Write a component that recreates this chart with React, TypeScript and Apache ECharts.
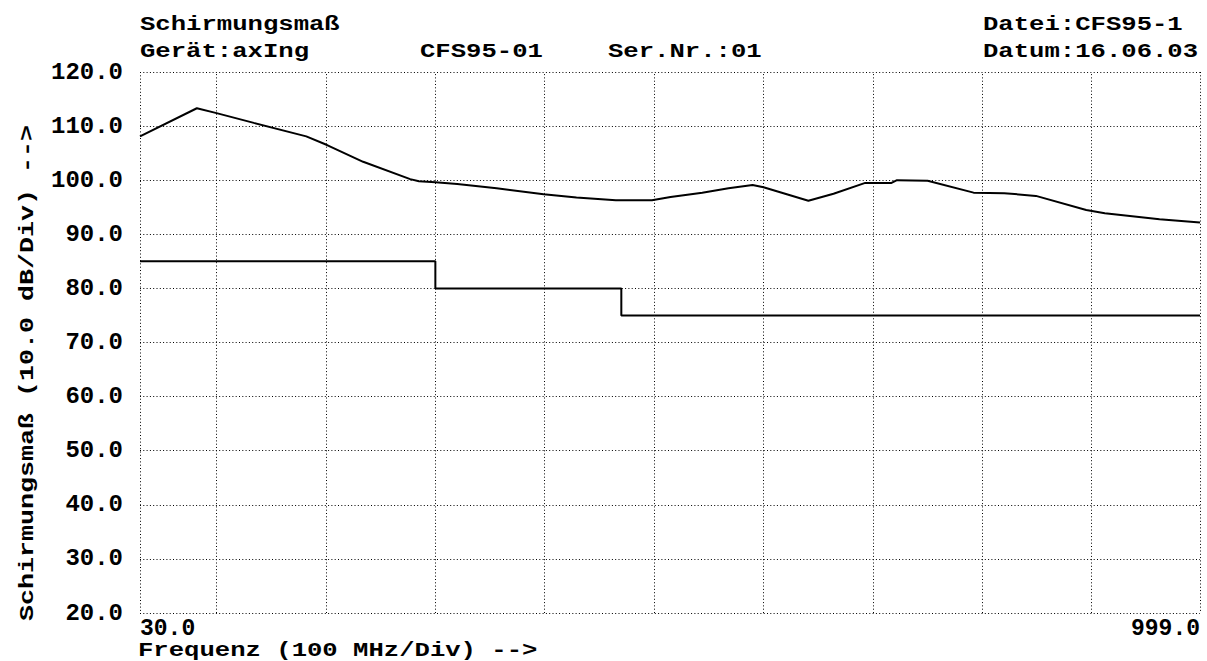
import React, { useEffect, useRef } from "react";
import * as echarts from "echarts";

// Frequency (MHz) and shielding attenuation (dB) of the measured curve
const measFreq = [30, 82, 100, 134, 182, 201, 234, 277, 285, 300, 320, 356, 399, 429, 465, 498, 515, 544, 568, 590, 600, 641, 664, 693, 717, 722, 750, 792, 820, 849, 895, 912, 962, 999];
const measDb = [108.1, 113.3, 112.4, 110.6, 108.1, 106.5, 103.4, 100.2, 99.8, 99.6, 99.3, 98.5, 97.4, 96.8, 96.3, 96.3, 96.9, 97.7, 98.5, 99.1, 98.7, 96.2, 97.5, 99.5, 99.5, 100.0, 99.9, 97.7, 97.6, 97.1, 94.5, 93.9, 92.8, 92.2];

// Limit line (step)
const limitFreq = [30, 300, 300, 470, 470, 999];
const limitDb = [85, 85, 80, 80, 75, 75];

// Vertical grid divisions (100 MHz/Div)
const freqDivs = [100, 200, 300, 400, 500, 600, 700, 800, 900];

const xMin = 30;
const xMax = 999;
const yMin = 20;
const yMax = 120;
const yStep = 10;

const headerTexts = [
  { text: "Schirmungsmaß", x: 140, y: 35 },
  { text: "Gerät:axIng", x: 140, y: 62 },
  { text: "CFS95-01", x: 420, y: 62 },
  { text: "Ser.Nr.:01", x: 608, y: 62 },
  { text: "Datei:CFS95-1", x: 983, y: 35 },
  { text: "Datum:16.06.03", x: 983, y: 62 },
];

const FONT = "'Liberation Mono', 'DejaVu Sans Mono', monospace";
const dotted = [1, 2.3];

export default function App() {
  const ref = useRef<HTMLDivElement>(null);
  useEffect(() => {
    if (!ref.current) return;
    const chart = echarts.init(ref.current, null, { renderer: "svg" });
    const textScale = 1.22;
    const graphics: any[] = headerTexts.map((h) => ({
      type: "text",
      x: h.x,
      y: h.y,
      scaleX: textScale,
      style: {
        text: h.text,
        font: `bold 21px ${FONT}`,
        fill: "#000",
        textAlign: "left",
        textVerticalAlign: "bottom",
      },
    }));
    graphics.push({
      type: "text",
      x: 27,
      y: 621,
      rotation: Math.PI / 2,
      scaleX: 1.27,
      style: {
        text: "Schirmungsmaß (10.0 dB/Div) -->",
        font: `bold 21px ${FONT}`,
        fill: "#000",
        textAlign: "left",
        textVerticalAlign: "middle",
      },
    });
    graphics.push({
      type: "text",
      x: 138,
      y: 661,
      scaleX: textScale,
      style: {
        text: "Frequenz (100 MHz/Div) -->",
        font: `bold 21px ${FONT}`,
        fill: "#000",
        textAlign: "left",
        textVerticalAlign: "bottom",
      },
    });

    chart.setOption({
      animation: false,
      backgroundColor: "#fff",
      grid: { left: 140, right: 7, top: 72, bottom: 48, containLabel: false },
      xAxis: {
        type: "value",
        min: xMin,
        max: xMax,
        interval: xMax - xMin,
        axisLine: { show: false },
        axisTick: { show: false },
        splitLine: { show: true, lineStyle: { color: "#000", type: dotted, width: 1 } },
        axisLabel: {
          formatter: (v: number) => v.toFixed(1),
          fontFamily: FONT,
          fontWeight: "bold",
          fontSize: 23,
          color: "#000",
          margin: 4,
          alignMinLabel: "left",
          alignMaxLabel: "right",
        },
      },
      yAxis: {
        type: "value",
        min: yMin,
        max: yMax,
        interval: yStep,
        axisLine: { show: false },
        axisTick: { show: false },
        splitLine: { show: true, lineStyle: { color: "#000", type: dotted, width: 1 } },
        axisLabel: {
          formatter: (v: number) => v.toFixed(1),
          fontFamily: FONT,
          fontWeight: "bold",
          fontSize: 24,
          color: "#000",
          margin: 17,
        },
      },
      graphic: graphics,
      series: [
        {
          type: "line",
          data: limitFreq.map((f, i) => [f, limitDb[i]]),
          showSymbol: false,
          lineStyle: { color: "#000", width: 2 },
          silent: true,
          markLine: {
            silent: true,
            symbol: ["none", "none"],
            label: { show: false },
            lineStyle: { color: "#000", type: dotted, width: 1 },
            data: freqDivs.map((f) => ({ xAxis: f })),
          },
        },
        {
          type: "line",
          data: measFreq.map((f, i) => [f, measDb[i]]),
          showSymbol: false,
          lineStyle: { color: "#000", width: 2 },
          silent: true,
        },
      ],
    });
    return () => chart.dispose();
  }, []);
  return (
    <div
      ref={ref}
      style={{ position: "absolute", left: 0, top: 0, width: 1207, height: 661 }}
    />
  );
}
